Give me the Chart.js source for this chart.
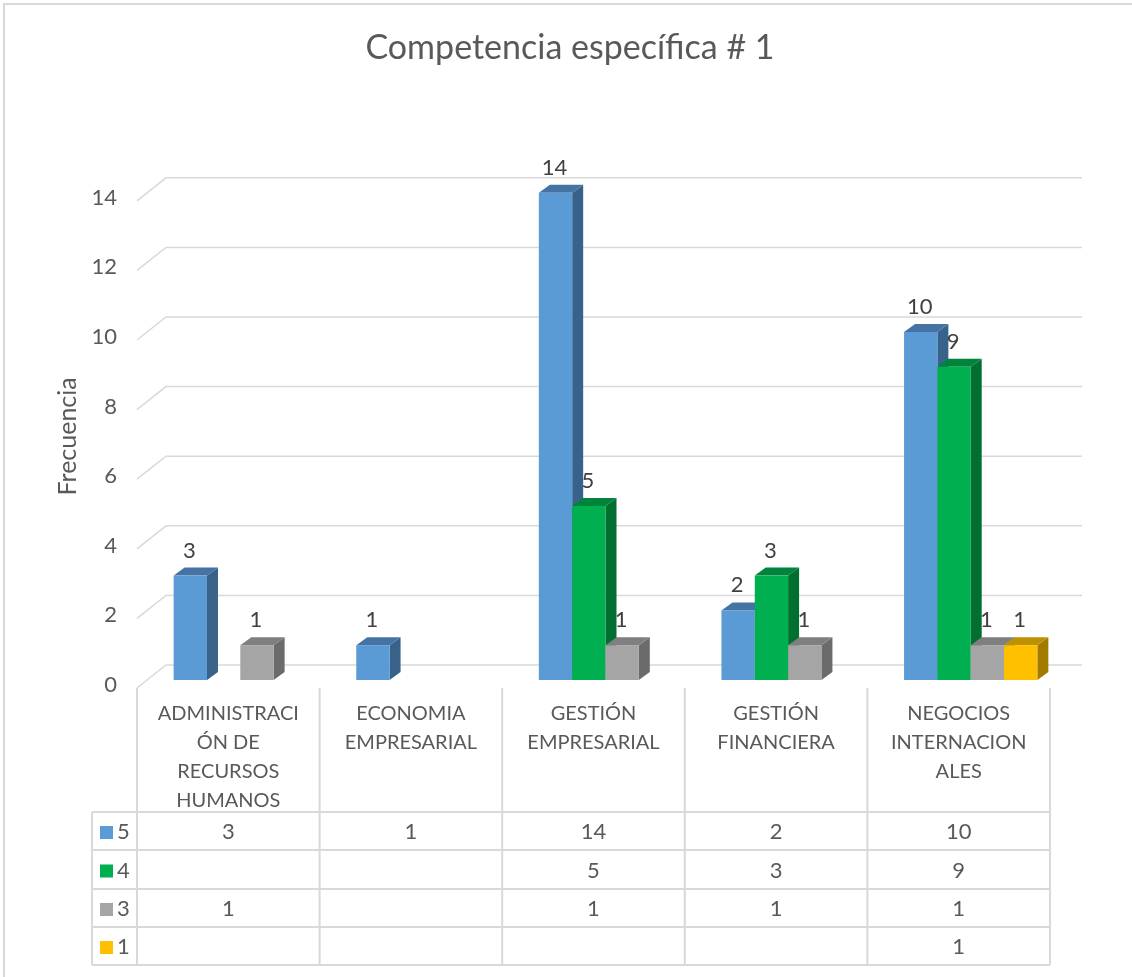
<!DOCTYPE html>
<html lang="es">
<head>
  <meta charset="UTF-8">
  <title>Competencia específica # 1</title>
  <script src="https://cdn.jsdelivr.net/npm/chart.js@4.4.1/dist/chart.umd.min.js"></script>
  <style>
    body { margin: 0; background: #fff; }
    #wrap { width: 1132px; height: 977px; position: relative; }
  </style>
</head>
<body>
  <div id="wrap"><canvas id="myChart"></canvas></div>
  <script>
    // categories (already wrapped like the original axis)
    const categories = [
      ['ADMINISTRACI', 'ÓN DE', 'RECURSOS', 'HUMANOS'],
      ['ECONOMIA', 'EMPRESARIAL'],
      ['GESTIÓN', 'EMPRESARIAL'],
      ['GESTIÓN', 'FINANCIERA'],
      ['NEGOCIOS', 'INTERNACION', 'ALES']
    ];
    const seriesNames = ['5', '4', '3', '1'];
    const values5 = [3, 1, 14, 2, 10];
    const values4 = [null, null, 5, 3, 9];
    const values3 = [1, null, 1, 1, 1];
    const values1 = [null, null, null, null, 1];
    const yTicks = [0, 2, 4, 6, 8, 10, 12, 14];

    const FONT = 'Lato, "Open Sans", sans-serif';
    const TXT = '#595959';
    const LINE = '#d9d9d9';
    const front = ['#5b9bd5', '#00b050', '#a5a5a5', '#ffc000'];
    const side = ['#38628a', '#006f2f', '#6b6b6b', '#a37a00'];
    const top_ = ['#4574a4', '#00843b', '#7f7f7f', '#bf9000'];
    const DX = 11, DY = 8, SHIFT = 12;

    // 3D bars, back gridlines, labels and data table
    const excel3d = {
      id: 'excel3d',
      beforeDraw(chart) {
        const ctx = chart.ctx;
        const y = chart.scales.y;
        ctx.save();
        ctx.strokeStyle = LINE;
        ctx.lineWidth = 2;
        ctx.strokeRect(4, 4, 1200, 1100);
        ctx.lineWidth = 1.5;
        yTicks.forEach(v => {
          const p = y.getPixelForValue(v);
          ctx.beginPath();
          ctx.moveTo(137, p + 8);
          ctx.lineTo(166, p - 15);
          ctx.lineTo(1082, p - 15);
          ctx.stroke();
        });
        ctx.restore();
      },
      beforeDatasetsDraw(chart) {
        const ctx = chart.ctx;
        const n = chart.data.labels.length;
        ctx.save();
        for (let i = 0; i < n; i++) {
          chart.data.datasets.forEach((ds, d) => {
            if (ds.data[i] == null) return;
            const el = chart.getDatasetMeta(d).data[i];
            const x1 = el.x - el.width / 2 + SHIFT, x2 = el.x + el.width / 2 + SHIFT;
            const t = el.y, b = el.base;
            // side
            ctx.fillStyle = side[d];
            ctx.beginPath();
            ctx.moveTo(x2, t); ctx.lineTo(x2 + DX, t - DY);
            ctx.lineTo(x2 + DX, b - DY); ctx.lineTo(x2, b); ctx.closePath();
            ctx.fill();
            // top
            ctx.fillStyle = top_[d];
            ctx.beginPath();
            ctx.moveTo(x1, t); ctx.lineTo(x1 + DX, t - DY);
            ctx.lineTo(x2 + DX, t - DY); ctx.lineTo(x2, t); ctx.closePath();
            ctx.fill();
            // front
            ctx.fillStyle = front[d];
            ctx.fillRect(x1, t, x2 - x1, b - t);
          });
        }
        // data labels
        ctx.fillStyle = '#404040';
        ctx.font = '22px ' + FONT;
        ctx.textAlign = 'center';
        ctx.textBaseline = 'middle';
        chart.data.datasets.forEach((ds, d) => {
          chart.getDatasetMeta(d).data.forEach((el, i) => {
            if (ds.data[i] == null) return;
            ctx.fillText(String(ds.data[i]), el.x + SHIFT - 1, el.y - 25);
          });
        });
        ctx.restore();
        return false;
      },
      afterDraw(chart) {
        const ctx = chart.ctx;
        const x = chart.scales.x;
        const n = chart.data.labels.length;
        const w = (x.right - x.left) / n;
        const rows = [812, 850, 889, 927, 965];
        const legL = 92;
        ctx.save();
        ctx.strokeStyle = LINE;
        ctx.lineWidth = 2;
        // vertical lines
        for (let i = 0; i <= n; i++) {
          const cx = x.left + i * w;
          ctx.beginPath();
          ctx.moveTo(cx, 688); ctx.lineTo(cx, rows[rows.length - 1]);
          ctx.stroke();
        }
        ctx.beginPath();
        ctx.moveTo(legL, rows[0]); ctx.lineTo(legL, rows[rows.length - 1]);
        ctx.stroke();
        rows.forEach(r => {
          ctx.beginPath();
          ctx.moveTo(legL, r); ctx.lineTo(x.right, r);
          ctx.stroke();
        });
        // rows
        ctx.font = '22px ' + FONT;
        ctx.textBaseline = 'middle';
        chart.data.datasets.forEach((ds, d) => {
          const cy = (rows[d] + rows[d + 1]) / 2 + 1;
          ctx.fillStyle = front[d];
          ctx.fillRect(100, cy - 6, 13, 13);
          ctx.fillStyle = TXT;
          ctx.textAlign = 'left';
          ctx.fillText(ds.label, 117, cy);
          ctx.textAlign = 'center';
          ds.data.forEach((v, i) => {
            if (v == null) return;
            ctx.fillText(String(v), x.left + (i + 0.5) * w, cy);
          });
        });
        ctx.restore();
      }
    };

    const ctx = document.getElementById('myChart').getContext('2d');
    new Chart(ctx, {
      type: 'bar',
      data: {
        labels: categories,
        datasets: [
          { label: seriesNames[0], data: values5, backgroundColor: front[0] },
          { label: seriesNames[1], data: values4, backgroundColor: front[1] },
          { label: seriesNames[2], data: values3, backgroundColor: front[2] },
          { label: seriesNames[3], data: values1, backgroundColor: front[3] }
        ]
      },
      options: {
        responsive: true,
        maintainAspectRatio: false,
        animation: false,
        layout: { padding: { left: 90, right: 82, top: 0, bottom: 0 } },
        datasets: { bar: { categoryPercentage: 0.73, barPercentage: 1 } },
        plugins: {
          legend: { display: false },
          tooltip: { enabled: false },
          title: {
            display: true,
            text: 'Competencia específica # 1',
            color: TXT,
            font: { family: FONT, size: 34, weight: 'normal', lineHeight: 1.2 },
            padding: { top: 28, bottom: 124 }
          }
        },
        scales: {
          x: {
            grid: { display: false },
            border: { display: false },
            ticks: {
              color: TXT,
              font: { family: FONT, size: 20, lineHeight: 1.45 },
              padding: 11,
              maxRotation: 0,
              minRotation: 0,
              autoSkip: false
            },
            afterFit(scale) { scale.height = 297; }
          },
          y: {
            min: 0,
            max: 14,
            grid: { display: false, drawTicks: false },
            border: { display: false },
            ticks: {
              stepSize: 2,
              color: TXT,
              font: { family: FONT, size: 22 },
              padding: 20,
              labelOffset: 5
            },
            title: {
              display: true,
              text: 'Frecuencia',
              color: TXT,
              font: { family: FONT, size: 25, weight: 'normal', lineHeight: 1.2 },
              padding: { top: -37, bottom: 0 }
            },
            afterFit(scale) { scale.width = 47; }
          }
        }
      },
      plugins: [excel3d]
    });
  </script>
</body>
</html>
